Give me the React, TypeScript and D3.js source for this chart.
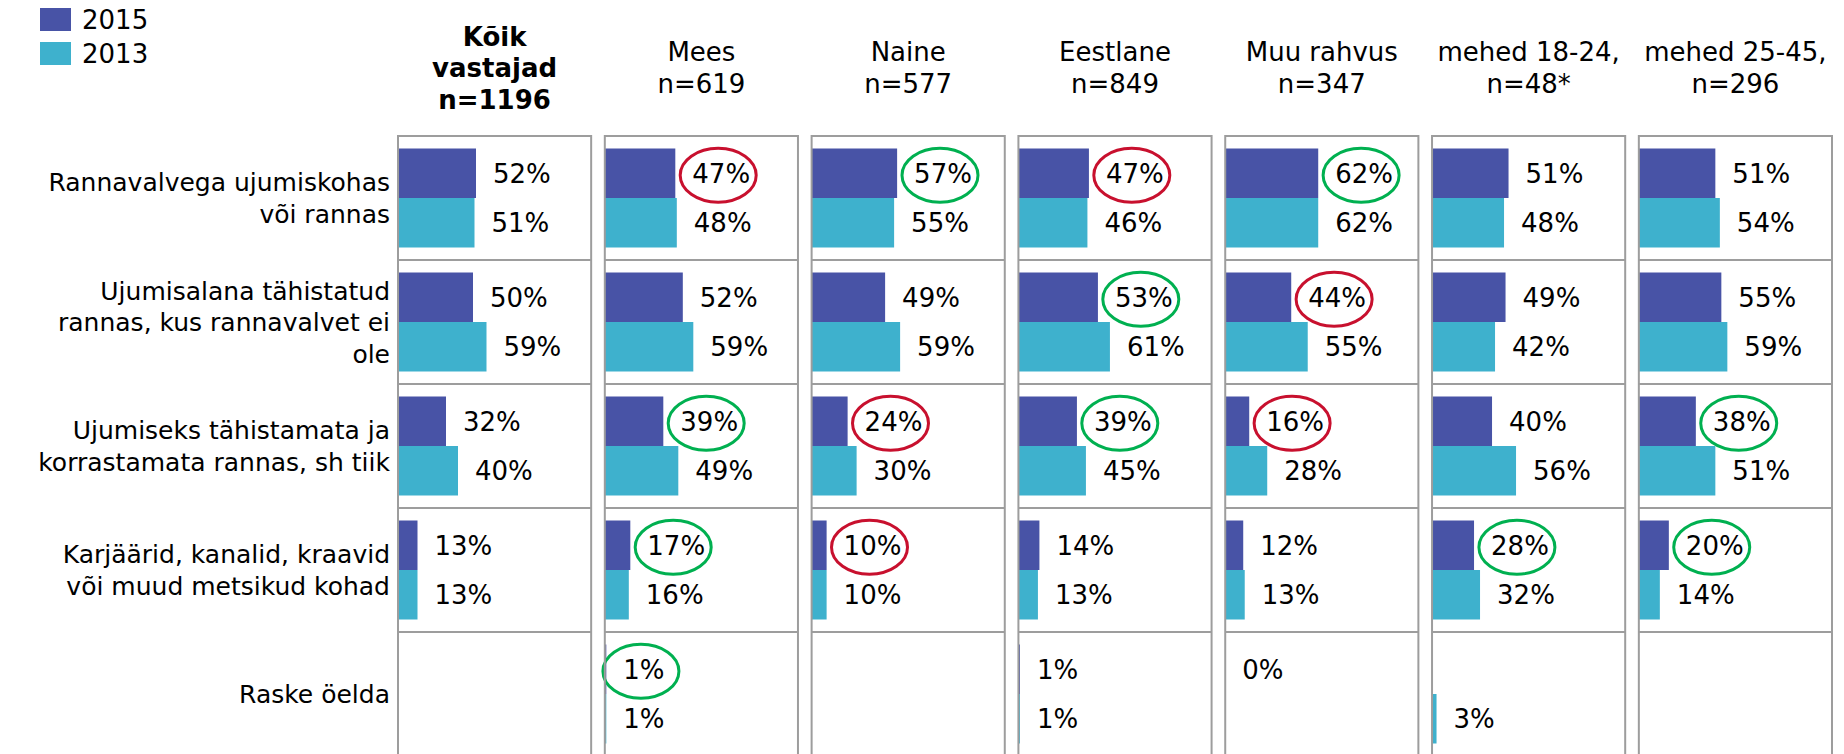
import React from "react";
import * as d3 from "d3";

// survey groups (panel headers)
const groups = ["Kõik vastajad", "Mees", "Naine", "Eestlane", "Muu rahvus", "mehed 18-24", "mehed 25-45"];
const headerLines = [
    ["Kõik", "vastajad", "n=1196"],
    ["Mees", "n=619"],
    ["Naine", "n=577"],
    ["Eestlane", "n=849"],
    ["Muu rahvus", "n=347"],
    ["mehed 18-24,", "n=48*"],
    ["mehed 25-45,", "n=296"],
];

// row categories
const categories = ["rannavalve", "ujumisala", "tahistamata", "karjaarid", "raske"];
const categoryLines = [
    ["Rannavalvega ujumiskohas", "või rannas"],
    ["Ujumisalana tähistatud", "rannas, kus rannavalvet ei", "ole"],
    ["Ujumiseks tähistamata ja", "korrastamata rannas, sh tiik"],
    ["Karjäärid, kanalid, kraavid", "või muud metsikud kohad"],
    ["Raske öelda"],
];

const years = ["2015", "2013"];

// values per group, in category order (null = no bar / no label)
const values2015 = [
    [52, 50, 32, 13, null],
    [47, 52, 39, 17, 1],
    [57, 49, 24, 10, null],
    [47, 53, 39, 14, 1],
    [62, 44, 16, 12, 0],
    [51, 49, 40, 28, null],
    [51, 55, 38, 20, null],
];
const values2013 = [
    [51, 59, 40, 13, null],
    [48, 59, 49, 16, 1],
    [55, 59, 30, 10, null],
    [46, 61, 45, 13, 1],
    [62, 55, 28, 13, null],
    [48, 42, 56, 32, 3],
    [54, 59, 51, 14, null],
];

// circled 2015 values: [group index, category index, kind]
const highlights = [
    [1, 0, "down"], [2, 0, "up"], [3, 0, "down"], [4, 0, "up"],
    [3, 1, "up"], [4, 1, "down"],
    [1, 2, "up"], [2, 2, "down"], [3, 2, "up"], [4, 2, "down"], [6, 2, "up"],
    [1, 3, "up"], [2, 3, "down"], [5, 3, "up"], [6, 3, "up"],
    [1, 4, "up"],
];

const colors = { "2015": "#4853a6", "2013": "#3eb1cd" };
const ringColors = { up: "#00b050", down: "#c8102e" };
const FONT = "DejaVu Sans";

const W = 1844;
const H = 754;

const labelWidth = (v) => (String(v).length * 0.636 + 0.95) * 26;

const App = () => {
    const xPanel = d3.scaleBand().domain(groups).range([398, 1832]).paddingInner(0.066);
    const yRow = d3.scaleBand().domain(categories).range([136, 756]);
    const ySeries = d3.scaleBand().domain(years).range([0, yRow.bandwidth()]).paddingOuter(0.2525);
    const xVal = d3.scaleLinear().domain([0, 100]).range([0, 150]);

    const seriesData = { "2015": values2015, "2013": values2013 };

    return (
        <svg width={W} height={H} style={{ position: "absolute", left: 0, top: 0, background: "#fff" }}
             fontFamily={FONT}>
            {/* legend */}
            {years.map((yr, i) => (
                <g key={yr} transform={`translate(40,${8 + i * 34})`}>
                    <rect width={31} height={23} fill={colors[yr]} />
                    <text x={42} y={21} fontSize={26} fill="#000">{yr}</text>
                </g>
            ))}

            {/* panel headers */}
            {groups.map((g, gi) => {
                const cx = xPanel(g) + xPanel.bandwidth() / 2;
                const lines = headerLines[gi];
                return (
                    <text key={g} textAnchor="middle" fontSize={26} fontWeight={gi === 0 ? "bold" : "normal"} fill="#000">
                        {lines.map((l, li) => (
                            <tspan key={li} x={cx} y={77 + (li - (lines.length - 1) / 2) * 31.5}>{l}</tspan>
                        ))}
                    </text>
                );
            })}

            {/* category labels */}
            {categories.map((c, ci) => {
                const cy = yRow(c) + yRow.bandwidth() / 2;
                const lines = categoryLines[ci];
                return (
                    <text key={c} textAnchor="end" fontSize={25} fill="#000">
                        {lines.map((l, li) => (
                            <tspan key={li} x={390} y={cy + 9 + (li - (lines.length - 1) / 2) * 31.5}>{l}</tspan>
                        ))}
                    </text>
                );
            })}

            {/* panels */}
            {groups.map((g, gi) => {
                const px = xPanel(g);
                return (
                    <g key={g} transform={`translate(${px},0)`}>
                        {categories.map((c, ci) =>
                            years.map((yr) => {
                                const v = seriesData[yr][gi][ci];
                                if (v === null) return null;
                                const y0 = yRow(c) + ySeries(yr);
                                const bw = xVal(v);
                                const lx = bw + 17;
                                const ly = y0 + ySeries.bandwidth() / 2;
                                const hl = yr === "2015" ? highlights.find((h) => h[0] === gi && h[1] === ci) : null;
                                return (
                                    <g key={c + yr}>
                                        {bw > 0 && <rect x={0} y={y0} width={bw} height={ySeries.bandwidth()} fill={colors[yr]} />}
                                        <text x={lx} y={ly} dy="0.36em" fontSize={26} fill="#000">{v}%</text>
                                        {hl && (
                                            <ellipse cx={lx + labelWidth(v) / 2 - 3} cy={ly + 2} rx={38} ry={27}
                                                     fill="none" stroke={ringColors[hl[2]]} strokeWidth={3} />
                                        )}
                                    </g>
                                );
                            })
                        )}
                        <rect x={0} y={yRow.range()[0]} width={xPanel.bandwidth()} height={yRow.range()[1] - yRow.range()[0]}
                              fill="none" stroke="#9d9d9d" strokeWidth={2} />
                        {categories.slice(1).map((c) => (
                            <line key={c} x1={0} x2={xPanel.bandwidth()} y1={yRow(c)} y2={yRow(c)} stroke="#9d9d9d" strokeWidth={2} />
                        ))}
                    </g>
                );
            })}
        </svg>
    );
};

export default App;
